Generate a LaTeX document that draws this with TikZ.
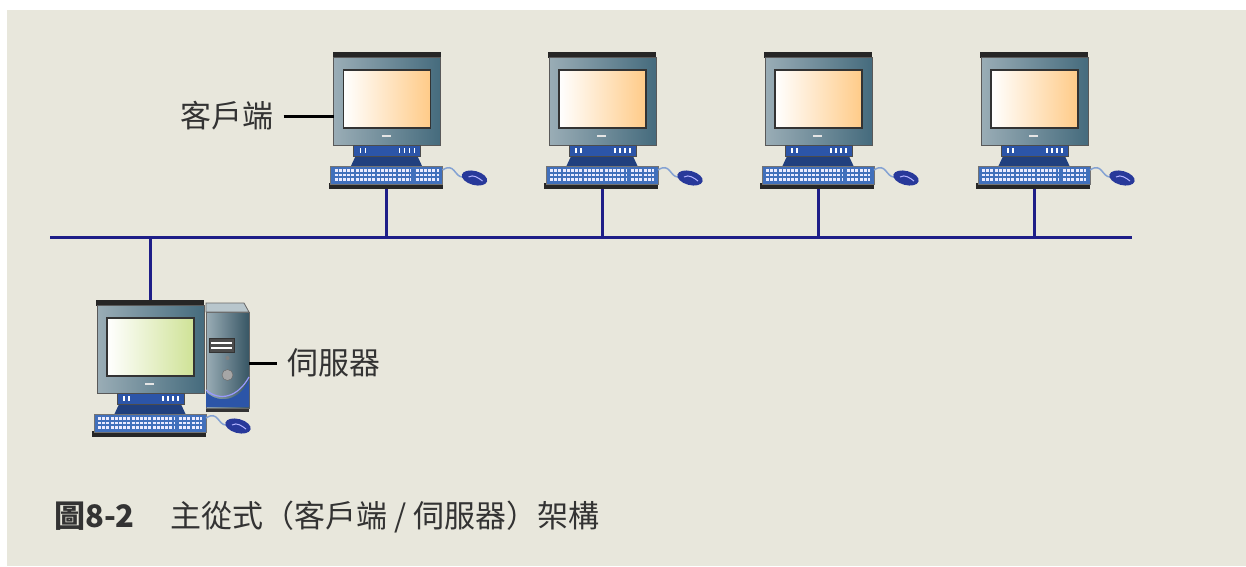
\documentclass[tikz,border=0pt]{standalone}
\usepackage{fontspec}
\newfontfamily\cjk{Noto Sans CJK TC}
\usetikzlibrary{positioning}
\definecolor{bgcol}{HTML}{E8E7DC}
\definecolor{buscol}{HTML}{1E1E88}
\definecolor{bodyL}{HTML}{9AADB6}
\definecolor{bodyR}{HTML}{456B7D}
\definecolor{standcol}{HTML}{2C55A8}
\definecolor{keycol}{HTML}{4170BC}
\definecolor{mousecol}{HTML}{28399A}
\definecolor{peach}{HTML}{FFCB88}
\definecolor{lime}{HTML}{CFE296}
\tikzset{
  bus/.style={buscol, line width=3pt},
  tag/.style={black, line width=3pt},
  lbl/.style={font=\cjk\fontsize{31}{36}\selectfont, text=black!80, inner xsep=10pt, inner ysep=0pt},
  keys/.style={blue!8, line width=2.4pt, dash pattern=on 3pt off 1.2pt},
  pics/pc/.style={code={
    % monitor
    \fill[black!85] (-54,0) rectangle (54,6);
    \draw[black!65, left color=bodyL, right color=bodyR, line width=0.8pt] (-53,5) rectangle (54,93);
    \draw[black!80, left color=white, right color=#1, line width=1.6pt] (-43,18) rectangle (44,76);
    \draw[white!90!black, line width=1.6pt] (-5,84) -- (4,84);
    % stand
    \fill[standcol!75!black] (-30,102) -- (30,102) -- (36,115) -- (-36,115) -- cycle;
    \draw[black!70, fill=standcol] (-33,93) rectangle (34,104);
    \foreach \x in {-26,-21,13,18,23,28} \draw[white, line width=1.3pt] (\x,96) -- (\x,101);
    % keyboard
    \fill[black!85] (-58,131) rectangle (56,137);
    \draw[black!55, fill=keycol] (-56,114) rectangle (56,132);
    \foreach \y in {118.5,123,127.5} {
      \draw[keys] (-52,\y) -- (24,\y);
      \draw[keys] (29,\y) -- (52,\y);
    }
    % mouse
    \draw[keycol!65, line width=1.5pt] (56,118) .. controls (68,110) and (68,125) .. (76,125);
    \fill[mousecol, rotate around={-15:(88,126)}] (88,126) ellipse [x radius=13, y radius=7];
    \draw[white!70!blue, line width=1pt] (82,125) .. controls (87,122) and (92,126) .. (96,129);
    \coordinate (-top) at (0,0);
    \coordinate (-bot) at (0,137);
    \coordinate (-west) at (-53,64);
  }},
  pics/tower/.style={code={
    % case
    \fill[black!80] (56,107) rectangle (99,112);
    \draw[black!60, left color=bodyL, right color=bodyR!80!black, line width=0.8pt] (56,12) rectangle (99,108);
    \draw[black!60, fill=bodyL!70!white, line width=0.8pt] (56,3) -- (94,3) -- (99,12) -- (56,12) -- cycle;
    \fill[standcol] (56,92) .. controls (70,105) and (90,100) .. (99,80) -- (99,107) -- (56,107) -- cycle;
    \draw[white!60!blue, line width=1.2pt] (56,90) .. controls (70,102) and (88,97) .. (99,77);
    % drive, led, button
    \draw[black!80, fill=black!70, line width=0.8pt] (59,38) rectangle (84,52);
    \draw[white, line width=1.6pt] (61,43) -- (82,43) (61,48) -- (82,48);
    \fill[black!50] (77.5,58) circle (2);
    \draw[black!60, fill=black!35] (77.5,75) circle (5.5);
    \coordinate (-east) at (99,63);
  }},
}

\begin{document}
\begin{tikzpicture}[x=1pt, y=-1pt]

% Background
\useasboundingbox (0,0) rectangle (1246,566);
\fill[white] (0,0) rectangle (1246,566);
\fill[bgcol] (7,10) rectangle (1246,566);

% Bus
\coordinate (busL) at (50,237);
\coordinate (busR) at (1132,237);
\draw[bus] (busL) -- (busR);

% Clients
\foreach \i/\x in {1/386.5, 2/602, 3/818, 4/1034} {
  \pic (c\i) at (\x,52) {pc=peach};
  \draw[bus] (c\i-bot) -- (c\i-bot |- busL);
}
\node[lbl, left=50pt of c1-west] (clientlbl) {客戶端};
\draw[tag] (clientlbl.east) -- (c1-west);

% Server
\pic (srv) at (150,300) {pc=lime};
\pic (srvbox) at (150,300) {tower};
\draw[bus] (srv-top) -- (srv-top |- busL);
\node[lbl, right=28pt of srvbox-east] (serverlbl) {伺服器};
\draw[tag] (srvbox-east) -- (serverlbl.west);

% Caption
\node[anchor=west, inner sep=0pt, font=\cjk\fontsize{31}{36}\selectfont, text=black!80] (caption) at (54,517)
  {\textbf{圖8-2}\hspace{36pt}主從式（客戶端 / 伺服器）架構};
\end{tikzpicture}
\end{document}
